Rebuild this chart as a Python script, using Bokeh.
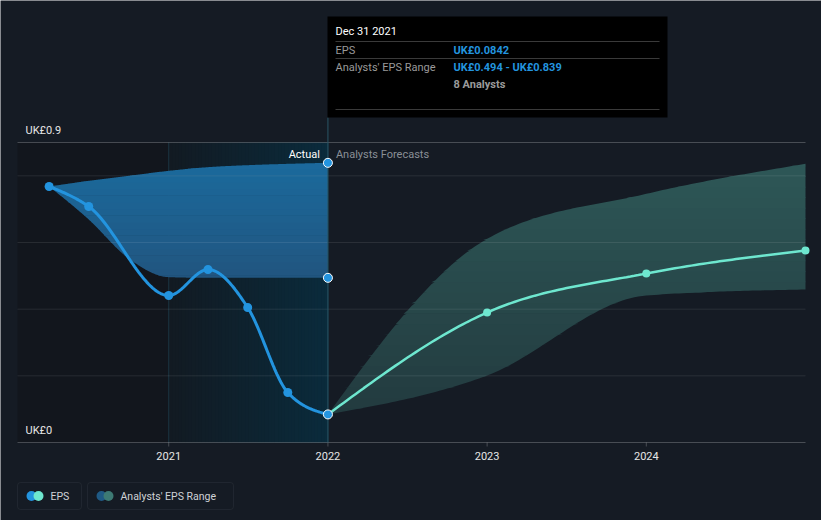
import numpy as np
import pandas as pd
from bokeh.plotting import figure
from bokeh.models import Range1d, BoxAnnotation
from bokeh.core.properties import value
from bokeh.embed import file_html
from bokeh.resources import INLINE

# ---------------- data ----------------
eps_dates = ["2020-03-31", "2020-06-30", "2020-12-31", "2021-03-31",
             "2021-06-30", "2021-09-30", "2021-12-31"]
eps_values = [0.768, 0.708, 0.441, 0.519, 0.405, 0.150, 0.0842]

past_range_dates = ["2020-03-31", "2020-06-30", "2020-09-30", "2020-12-31",
                    "2021-03-31", "2021-06-30", "2021-09-30", "2021-12-31"]
past_range_low = [0.768, 0.669, 0.552, 0.496, 0.494, 0.494, 0.494, 0.494]
past_range_high = [0.768, 0.785, 0.800, 0.815, 0.826, 0.832, 0.836, 0.839]

fc_dates = ["2021-12-31", "2022-12-31", "2023-12-31", "2024-12-31"]
fc_eps = [0.0842, 0.390, 0.507, 0.576]
fc_low = [0.0842, 0.201, 0.441, 0.459]
fc_high = [0.0842, 0.611, 0.746, 0.836]

tick_years = [2021, 2022, 2023, 2024]
tick_labels = ["2021", "2022", "2023", "2024"]
y_labels = ["UK£0", "UK£0.9"]
y_label_values = [0.0, 0.9]
grid_values = [0.2, 0.4, 0.6, 0.8]

tooltip_title = "Dec 31 2021"
tooltip_rows = [("EPS", "UK£0.0842"), ("Analysts' EPS Range", "UK£0.494 - UK£0.839")]
tooltip_note = "8 Analysts"

# ---------------- helpers ----------------
def to_year(ds):
    d = pd.to_datetime(pd.Series(ds))
    days = np.where(d.dt.is_leap_year, 366, 365)
    return (d.dt.year + d.dt.dayofyear / days).to_numpy(dtype=float)


def monotone(xs, ys, n=40):
    xs = np.asarray(xs, float); ys = np.asarray(ys, float)
    h = np.diff(xs); s = np.diff(ys) / h
    k = len(xs)
    m = np.zeros(k)
    for i in range(1, k - 1):
        p = (s[i - 1] * h[i] + s[i] * h[i - 1]) / (h[i - 1] + h[i])
        m[i] = (np.sign(s[i - 1]) + np.sign(s[i])) * min(abs(s[i - 1]), abs(s[i]), 0.5 * abs(p))
    if k > 2:
        m[0] = (3 * s[0] - m[1]) / 2
        m[-1] = (3 * s[-1] - m[-2]) / 2
    else:
        m[0] = m[-1] = s[0]
    ox, oy = [], []
    for i in range(k - 1):
        t = np.linspace(0, 1, n, endpoint=(i == k - 2))
        h00 = 2 * t**3 - 3 * t**2 + 1
        h10 = t**3 - 2 * t**2 + t
        h01 = -2 * t**3 + 3 * t**2
        h11 = t**3 - t**2
        ox.append(xs[i] + t * h[i])
        oy.append(h00 * ys[i] + h10 * h[i] * m[i] + h01 * ys[i + 1] + h11 * h[i] * m[i + 1])
    return np.concatenate(ox), np.concatenate(oy)


def mix(c1, c2, t):
    a = np.array([int(c1[i:i + 2], 16) for i in (1, 3, 5)], float)
    b = np.array([int(c2[i:i + 2], 16) for i in (1, 3, 5)], float)
    c = a + (b - a) * t
    return "#%02x%02x%02x" % tuple(int(round(v)) for v in c)


# ---------------- layout (pixel geometry) ----------------
W, H = 821, 520
X_LEFT_PX, X_RIGHT_PX = 17, 805
X_LEFT, X_RIGHT = 2020.05, 2025.0
PPY = (X_RIGHT_PX - X_LEFT_PX) / (X_RIGHT - X_LEFT)
ZERO_PX, TOP_PX, TOP_VAL = 442, 142, 0.9
PPU = (ZERO_PX - TOP_PX) / TOP_VAL

def sx(px):
    return X_LEFT + (px - X_LEFT_PX) / PPY

def sy(py):
    return (ZERO_PX - py) / PPU

def dx(px):
    return px / PPY

BG = "#151b24"
BLUE = "#2394df"
TEAL = "#6ee7cf"
FONT = "Roboto"

p = figure(width=W, height=H, output_backend="svg", toolbar_location=None,
           x_axis_location=None, y_axis_location=None, min_border=0,
           x_range=Range1d(sx(0), sx(W)), y_range=Range1d(sy(H), sy(0)))
p.background_fill_color = BG
p.border_fill_color = BG
p.outline_line_color = None
p.grid.visible = False

ex = to_year(eps_dates)
prx = to_year(past_range_dates)
fx = to_year(fc_dates)
now = ex[-1]

# darker "past" region before 2021
p.quad(left=[X_LEFT], right=[tick_years[0]], bottom=[0], top=[TOP_VAL],
       fill_color="#12161d", line_color=None)
# horizontal gradient 2021 -> last actual
N = 48
edges = np.linspace(tick_years[0], now, N + 1)
cols = [mix("#121a22", "#0a2b3c", (i + 0.5) / N) for i in range(N)]
p.quad(left=edges[:-1], right=edges[1:] + dx(0.6), bottom=0, top=TOP_VAL,
       fill_color=cols, line_color=None)
# 2021 boundary line (behind bands)
p.segment(x0=[tick_years[0]], x1=[tick_years[0]], y0=[0], y1=[TOP_VAL],
          line_color="#1c3442", line_width=1)

# past analysts range band, vertical gradient
bx, blo = monotone(prx, past_range_low)
_, bhi = monotone(prx, past_range_high)
levels = np.linspace(0.44, 0.86, 22)
for i in range(len(levels) - 1):
    a, b = levels[i], levels[i + 1] + 0.002
    t = (i + 0.5) / (len(levels) - 1)
    p.varea(x=bx, y1=np.clip(blo, a, b), y2=np.clip(bhi, a, b),
            fill_color=mix("#22527b", "#1a6b9e", t))

# forecast range band, vertical gradient
gx, glo = monotone(fx, fc_low)
_, ghi = monotone(fx, fc_high)
levels = np.linspace(0.07, 0.86, 26)
for i in range(len(levels) - 1):
    a, b = levels[i], levels[i + 1] + 0.002
    t = (i + 0.5) / (len(levels) - 1)
    p.varea(x=gx, y1=np.clip(glo, a, b), y2=np.clip(ghi, a, b),
            fill_color=mix("#223a3e", "#2e5858", t))

# gridlines
p.segment(x0=X_LEFT, x1=X_RIGHT, y0=grid_values, y1=grid_values,
          line_color="#ffffff", line_alpha=0.09, line_width=1)
p.segment(x0=[X_LEFT], x1=[X_RIGHT], y0=[TOP_VAL], y1=[TOP_VAL],
          line_color="#ffffff", line_alpha=0.22, line_width=1)
# baseline and ticks
p.segment(x0=[X_LEFT], x1=[X_RIGHT], y0=[0], y1=[0],
          line_color="#ffffff", line_alpha=0.22, line_width=1)
p.segment(x0=tick_years, x1=tick_years, y0=0, y1=-4 / PPU,
          line_color="#ffffff", line_alpha=0.22, line_width=1)

# current-date marker line
p.segment(x0=[now], x1=[now], y0=[0], y1=[sy(117)],
          line_color="#2a5566", line_width=1)

# lines
lx, ly = monotone(ex, eps_values)
p.line(lx, ly, line_color=BLUE, line_width=3)
fxx, fyy = monotone(fx, fc_eps)
p.line(fxx, fyy, line_color=TEAL, line_width=2.5)

# points
p.scatter(ex[:-1], eps_values[:-1], size=9, fill_color=BLUE, line_color=None)
p.scatter(fx[1:], fc_eps[1:], size=8, fill_color=TEAL, line_color=None)
p.scatter([now, now, now], [eps_values[-1], past_range_low[-1], past_range_high[-1]],
          size=9, fill_color=BLUE, line_color="#ffffff", line_width=1)

# Actual / Analysts Forecasts
p.text(x=[now - dx(8)], y=[sy(154)], text=["Actual"], text_align="right",
       text_baseline="middle", text_color="#ffffff", text_font_size="11px",
       text_font=value(FONT))
p.text(x=[now + dx(8)], y=[sy(154)], text=["Analysts Forecasts"], text_align="left",
       text_baseline="middle", text_color="#8a8f96", text_font_size="11px",
       text_font=value(FONT))

# y labels
p.text(x=[sx(25)] * 2, y=[v + 12 / PPU for v in y_label_values], text=y_labels,
       text_align="left", text_baseline="middle", text_color="#e6e6e6",
       text_font_size="11px", text_font=value(FONT))
# x labels
p.text(x=tick_years, y=[sy(455)] * len(tick_years), text=tick_labels,
       text_align="center", text_baseline="middle", text_color="#e6e6e6",
       text_font_size="11px", text_font=value(FONT))

# tooltip
p.quad(left=[sx(327)], right=[sx(667)], top=[sy(16)], bottom=[sy(117)],
       fill_color="#000000", line_color=None)
p.segment(x0=sx(335), x1=sx(659), y0=[sy(41), sy(58), sy(109)], y1=[sy(41), sy(58), sy(109)],
          line_color="#3a3a3a", line_width=1)
p.text(x=[sx(335)], y=[sy(31)], text=[tooltip_title], text_baseline="middle",
       text_color="#ffffff", text_font_size="11px", text_font=value(FONT))
p.text(x=[sx(335)] * 2, y=[sy(49.5), sy(66.5)], text=[r[0] for r in tooltip_rows],
       text_baseline="middle", text_color="#9a9a9a", text_font_size="11px",
       text_font=value(FONT))
p.text(x=[sx(453)] * 2, y=[sy(49.5), sy(66.5)], text=[r[1] for r in tooltip_rows],
       text_baseline="middle", text_color=BLUE, text_font_size="11px",
       text_font_style="bold", text_font=value(FONT))
p.text(x=[sx(453)], y=[sy(83.5)], text=[tooltip_note], text_baseline="middle",
       text_color="#9a9a9a", text_font_size="11px", text_font_style="bold",
       text_font=value(FONT))

# legend
for l, r in [(17, 81), (87, 233)]:
    p.add_layout(BoxAnnotation(left=sx(l), right=sx(r), top=sy(482), bottom=sy(509),
                               fill_alpha=0, line_color="#3b414b", line_width=1,
                               border_radius=3))
p.scatter([sx(31), sx(38)], [sy(495.5)] * 2, size=10,
          fill_color=[BLUE, TEAL], line_color=None)
p.scatter([sx(101), sx(108)], [sy(495.5)] * 2, size=10,
          fill_color=["#1f5a85", "#3d7a74"], line_color=None)
p.text(x=[sx(50), sx(120)], y=[sy(495.5)] * 2, text=["EPS", "Analysts' EPS Range"],
       text_baseline="middle", text_color="#cfd2d6", text_font_size="10.5px",
       text_font=value(FONT))

open("out.html", "w").write(file_html(p, INLINE))
